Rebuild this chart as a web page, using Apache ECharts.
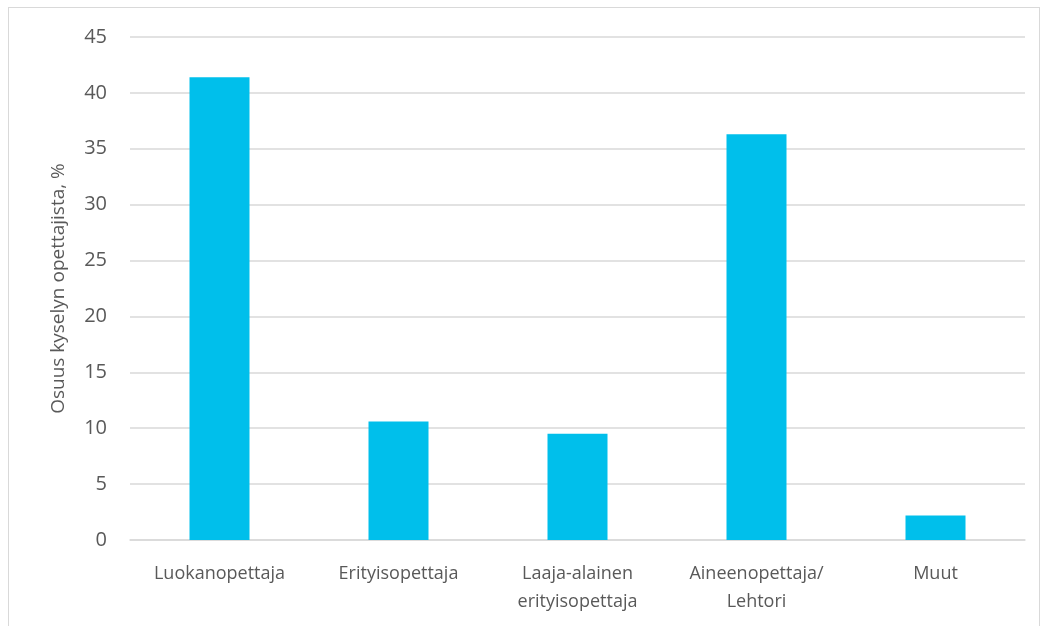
<!DOCTYPE html>
<html>
<head>
<meta charset="utf-8">
<script src="https://cdn.jsdelivr.net/npm/echarts@6/dist/echarts.min.js"></script>
<style>
  html, body { margin: 0; padding: 0; background: #fff; }
  #frame { position: absolute; left: 8px; top: 7px; width: 1032px; height: 640px; border: 1px solid #d9d9d9; box-sizing: border-box; }
  #chart { position: absolute; left: 0; top: 0; width: 1048px; height: 626px; }
</style>
</head>
<body>
<div id="frame"></div>
<div id="chart"></div>
<script>
// Teacher groups and their share of survey respondents (%)
const categories = ['Luokanopettaja', 'Erityisopettaja', 'Laaja-alainen\nerityisopettaja', 'Aineenopettaja/\nLehtori', 'Muut'];
const shares = [41.4, 10.6, 9.5, 36.3, 2.2];
const yAxisTitle = 'Osuus kyselyn opettajista, %';

const font = 'Open Sans, Noto Sans, sans-serif';
const chart = echarts.init(document.getElementById('chart'), null, { renderer: 'canvas' });
chart.setOption({
  animation: false,
  backgroundColor: 'transparent',
  grid: { left: 130, right: 23, top: 37, bottom: 86, containLabel: false },
  xAxis: {
    type: 'category',
    data: categories,
    axisLine: { show: true, lineStyle: { color: '#d9d9d9', width: 1.5 } },
    axisTick: { show: false },
    axisLabel: { color: '#595959', fontSize: 18, fontFamily: font, margin: 20, lineHeight: 28, interval: 0 }
  },
  yAxis: {
    type: 'value',
    min: 0, max: 45, interval: 5,
    name: yAxisTitle,
    nameLocation: 'middle',
    nameGap: 62,
    nameTextStyle: { color: '#595959', fontSize: 19, fontFamily: font },
    axisLine: { show: false },
    axisTick: { show: false },
    axisLabel: { color: '#595959', fontSize: 20, fontFamily: font, margin: 23 },
    splitLine: { lineStyle: { color: '#d9d9d9', width: 1.5 } }
  },
  series: [{
    type: 'bar',
    data: shares,
    barWidth: 60,
    itemStyle: { color: '#00bfeb' }
  }]
});
</script>
</body>
</html>
